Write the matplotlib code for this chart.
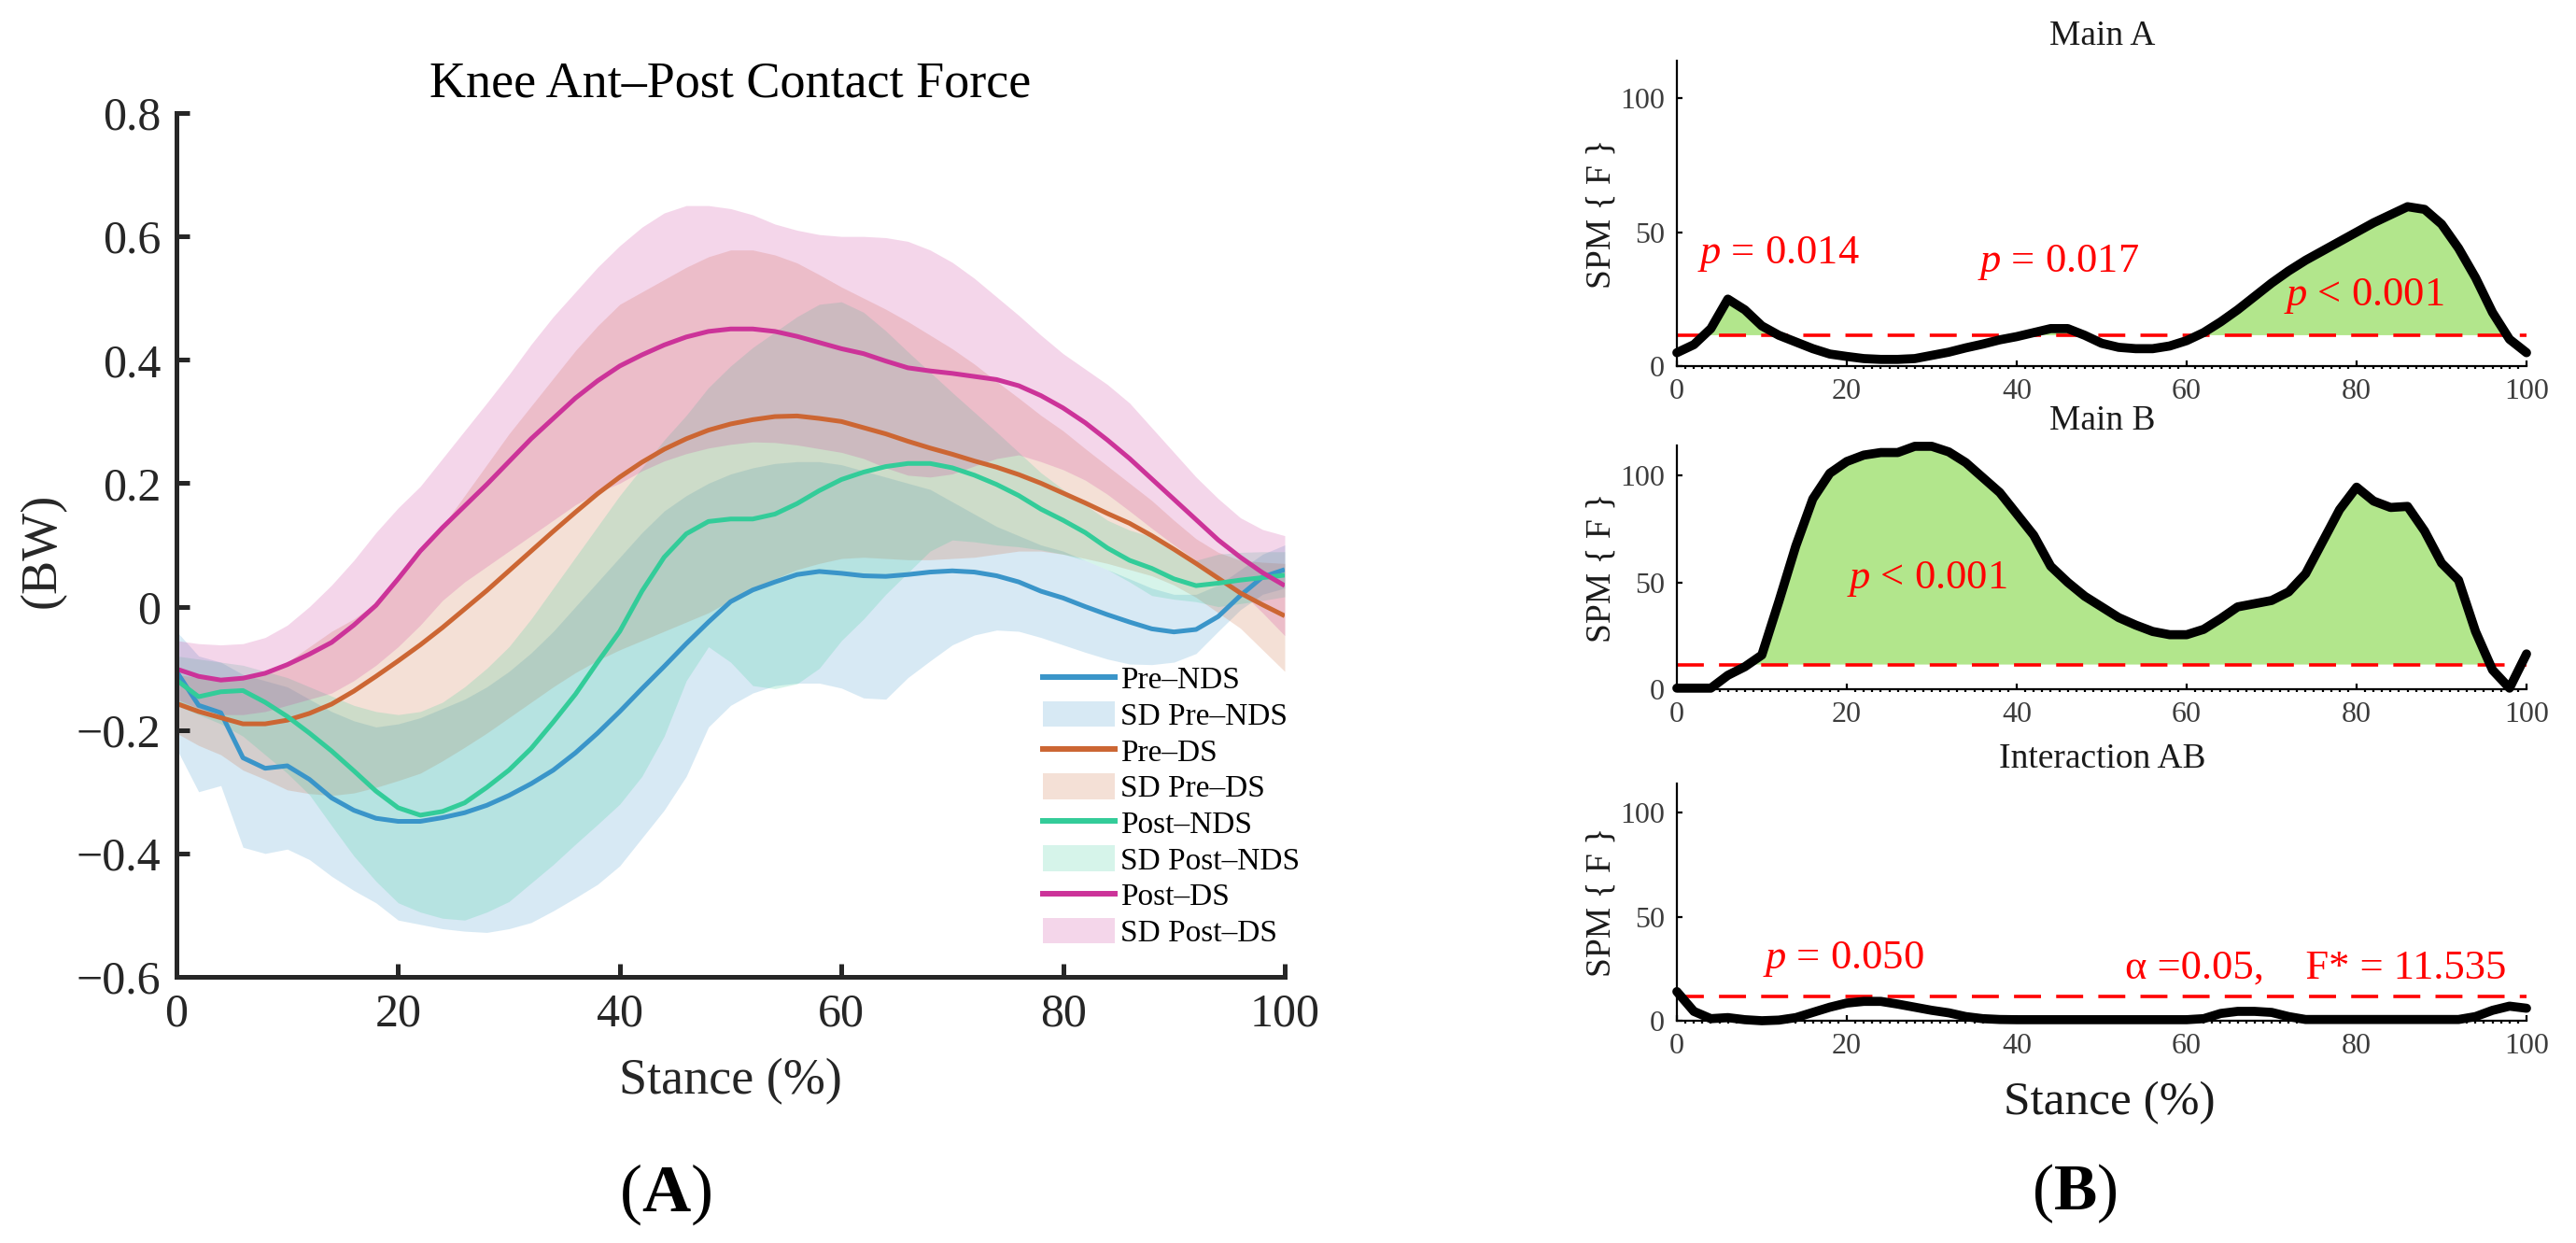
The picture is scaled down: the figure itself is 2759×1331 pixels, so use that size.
import matplotlib
matplotlib.use("Agg")
import matplotlib.pyplot as plt
import numpy as np
from matplotlib.lines import Line2D
from matplotlib.patches import Patch

plt.rcParams['font.family'] = ['Liberation Serif', 'DejaVu Serif']
plt.rcParams['mathtext.fontset'] = 'custom'
plt.rcParams['mathtext.rm'] = 'Liberation Serif'
plt.rcParams['mathtext.it'] = 'Liberation Serif:italic'
plt.rcParams['mathtext.bf'] = 'Liberation Serif:bold'

# ---------------- data ----------------
stance = list(range(0, 101, 2))

pre_nds_mean = [-0.105, -0.160, -0.172, -0.245, -0.262, -0.258, -0.280, -0.310, -0.330, -0.343,
                -0.348, -0.348, -0.342, -0.334, -0.322, -0.306, -0.287, -0.265, -0.237, -0.205,
                -0.170, -0.133, -0.097, -0.060, -0.025, 0.008, 0.027, 0.040, 0.052, 0.057,
                0.054, 0.050, 0.049, 0.052, 0.056, 0.058, 0.056, 0.050, 0.040, 0.025,
                0.014, 0.000, -0.013, -0.025, -0.036, -0.041, -0.037, -0.016, 0.018, 0.048, 0.060]
pre_nds_upper = [-0.04, -0.08, -0.09, -0.11, -0.12, -0.13, -0.15, -0.17, -0.185, -0.195,
                 -0.19, -0.18, -0.165, -0.15, -0.13, -0.105, -0.075, -0.04, 0.0, 0.04,
                 0.08, 0.12, 0.155, 0.18, 0.20, 0.215, 0.225, 0.232, 0.235, 0.235,
                 0.23, 0.22, 0.21, 0.20, 0.19, 0.17, 0.15, 0.13, 0.115, 0.10,
                 0.09, 0.075, 0.06, 0.045, 0.03, 0.02, 0.02, 0.035, 0.06, 0.085, 0.10]
pre_nds_lower = [-0.23, -0.30, -0.29, -0.39, -0.40, -0.393, -0.41, -0.437, -0.46, -0.48,
                 -0.508, -0.515, -0.522, -0.526, -0.528, -0.522, -0.512, -0.493, -0.472, -0.45,
                 -0.42, -0.375, -0.33, -0.275, -0.195, -0.16, -0.14, -0.128, -0.124, -0.124,
                 -0.132, -0.148, -0.15, -0.115, -0.088, -0.062, -0.046, -0.038, -0.04, -0.05,
                 -0.062, -0.074, -0.085, -0.093, -0.094, -0.09, -0.076, -0.04, -0.005, 0.02, 0.03]

pre_ds_mean = [-0.157, -0.170, -0.180, -0.190, -0.190, -0.184, -0.173, -0.158, -0.137, -0.113,
               -0.088, -0.062, -0.034, -0.004, 0.026, 0.058, 0.090, 0.122, 0.153, 0.183,
               0.210, 0.234, 0.255, 0.272, 0.286, 0.296, 0.303, 0.308, 0.309, 0.305,
               0.300, 0.290, 0.280, 0.268, 0.257, 0.247, 0.236, 0.226, 0.214, 0.200,
               0.184, 0.168, 0.151, 0.135, 0.115, 0.093, 0.070, 0.046, 0.022, 0.003, -0.015]
pre_ds_upper = [-0.11, -0.115, -0.12, -0.115, -0.105, -0.09, -0.065, -0.04, -0.02, 0.006,
                0.045, 0.085, 0.13, 0.18, 0.23, 0.28, 0.325, 0.37, 0.415, 0.455,
                0.49, 0.51, 0.53, 0.55, 0.567, 0.578, 0.578, 0.57, 0.557, 0.538,
                0.518, 0.50, 0.482, 0.462, 0.44, 0.418, 0.393, 0.365, 0.338, 0.31,
                0.285, 0.256, 0.228, 0.20, 0.172, 0.14, 0.11, 0.088, 0.075, 0.072, 0.07]
pre_ds_lower = [-0.205, -0.225, -0.24, -0.265, -0.28, -0.297, -0.303, -0.306, -0.302, -0.293,
                -0.282, -0.27, -0.25, -0.228, -0.205, -0.18, -0.155, -0.13, -0.107, -0.087,
                -0.07, -0.055, -0.04, -0.025, -0.01, 0.01, 0.03, 0.045, 0.06, 0.07,
                0.078, 0.08, 0.078, 0.076, 0.076, 0.078, 0.08, 0.085, 0.09, 0.09,
                0.085, 0.078, 0.07, 0.06, 0.05, 0.035, 0.015, -0.01, -0.035, -0.07, -0.105]

post_nds_mean = [-0.119, -0.146, -0.138, -0.136, -0.155, -0.178, -0.205, -0.234, -0.266, -0.299,
                 -0.326, -0.338, -0.332, -0.318, -0.293, -0.265, -0.230, -0.187, -0.142, -0.090,
                 -0.040, 0.025, 0.080, 0.118, 0.138, 0.142, 0.142, 0.150, 0.167, 0.188,
                 0.206, 0.218, 0.227, 0.232, 0.232, 0.225, 0.213, 0.198, 0.180, 0.158,
                 0.140, 0.120, 0.095, 0.075, 0.062, 0.045, 0.034, 0.038, 0.043, 0.047, 0.051]
post_nds_upper = [-0.08, -0.085, -0.09, -0.095, -0.105, -0.115, -0.13, -0.145, -0.16, -0.17,
                  -0.175, -0.17, -0.155, -0.13, -0.10, -0.065, -0.02, 0.03, 0.08, 0.13,
                  0.18, 0.225, 0.27, 0.31, 0.355, 0.39, 0.42, 0.445, 0.47, 0.49,
                  0.494, 0.477, 0.447, 0.413, 0.38, 0.347, 0.315, 0.283, 0.25, 0.217,
                  0.19, 0.165, 0.14, 0.124, 0.113, 0.09, 0.075, 0.085, 0.088, 0.089, 0.089]
post_nds_lower = [-0.16, -0.175, -0.19, -0.21, -0.24, -0.27, -0.305, -0.355, -0.404, -0.445,
                  -0.48, -0.495, -0.505, -0.508, -0.495, -0.478, -0.448, -0.418, -0.385, -0.353,
                  -0.32, -0.275, -0.21, -0.12, -0.065, -0.09, -0.128, -0.133, -0.125, -0.10,
                  -0.055, -0.02, 0.02, 0.055, 0.09, 0.108, 0.105, 0.10, 0.097, 0.092,
                  0.085, 0.075, 0.06, 0.04, 0.018, 0.012, 0.008, 0.0, 0.005, 0.01, 0.016]

post_ds_mean = [-0.101, -0.113, -0.119, -0.116, -0.108, -0.094, -0.077, -0.058, -0.030, 0.002,
                0.045, 0.090, 0.128, 0.163, 0.198, 0.235, 0.272, 0.305, 0.338, 0.366,
                0.390, 0.408, 0.424, 0.437, 0.446, 0.450, 0.450, 0.446, 0.438, 0.428,
                0.418, 0.410, 0.398, 0.387, 0.382, 0.378, 0.373, 0.368, 0.358, 0.342,
                0.322, 0.298, 0.270, 0.240, 0.207, 0.174, 0.141, 0.108, 0.080, 0.055, 0.034]
post_ds_upper = [-0.055, -0.06, -0.062, -0.06, -0.05, -0.03, 0.0, 0.035, 0.075, 0.12,
                 0.16, 0.195, 0.24, 0.285, 0.33, 0.376, 0.425, 0.47, 0.51, 0.55,
                 0.585, 0.615, 0.638, 0.65, 0.65, 0.645, 0.635, 0.62, 0.61, 0.603,
                 0.60, 0.60, 0.598, 0.592, 0.578, 0.558, 0.532, 0.502, 0.472, 0.44,
                 0.41, 0.385, 0.36, 0.33, 0.29, 0.25, 0.21, 0.175, 0.144, 0.125, 0.115]
post_ds_lower = [-0.15, -0.165, -0.175, -0.175, -0.17, -0.16, -0.15, -0.14, -0.12, -0.095,
                 -0.065, -0.03, 0.01, 0.04, 0.065, 0.09, 0.115, 0.14, 0.165, 0.185,
                 0.20, 0.22, 0.236, 0.248, 0.257, 0.263, 0.267, 0.266, 0.262, 0.256,
                 0.25, 0.24, 0.225, 0.213, 0.21, 0.215, 0.228, 0.24, 0.246, 0.235,
                 0.222, 0.205, 0.182, 0.155, 0.127, 0.10, 0.075, 0.05, 0.025, -0.01, -0.047]

group_names = ['Pre\u2013NDS', 'Pre\u2013DS', 'Post\u2013NDS', 'Post\u2013DS']
group_colors = ['#3A95C9', '#CC6633', '#33CC99', '#CC3399']

spm_main_a = [5, 8, 14, 25, 21, 15, 11.5, 9, 6.5, 4.5,
              3.6, 2.8, 2.5, 2.5, 2.8, 4, 5.2, 6.8, 8.2, 9.8,
              11, 12.5, 14, 14, 11.5, 8.5, 7, 6.5, 6.5, 7.5,
              9.5, 12.5, 16.5, 21, 26, 31, 35.5, 39.5, 43, 46.5,
              50, 53.5, 56.5, 59.5, 58.5, 53, 44, 33, 20, 10, 5]
spm_main_b = [0.5, 0.5, 0.5, 6.5, 10.5, 16, 41, 67, 89, 101,
              106.5, 109.5, 110.7, 110.7, 113.6, 113.6, 111, 106, 99, 92,
              82, 72, 57.5, 50, 43.5, 38.5, 33.5, 30, 27, 25.5,
              25.5, 28, 33, 38.5, 40, 41.5, 45.5, 54, 69, 84,
              94.5, 88, 85, 85.5, 74, 59, 51, 27, 9, 0.5, 16.5]
spm_inter = [14, 4.5, 1, 1.5, 0.5, 0, 0.3, 1.5, 4, 6.5,
             8.5, 9.3, 9.3, 8, 6.5, 5, 3.8, 2, 1, 0.6,
             0.5, 0.5, 0.5, 0.5, 0.5, 0.5, 0.5, 0.5, 0.5, 0.5,
             0.5, 1, 3.5, 4.5, 4.5, 4, 2, 0.6, 0.6, 0.6,
             0.6, 0.6, 0.6, 0.6, 0.6, 0.6, 0.6, 2, 5, 7, 6]
spm_threshold = 11.535
panel_titles = ['Main A', 'Main B', 'Interaction AB']

# ---------------- figure ----------------
W, H = 2759, 1331
fig = plt.figure(figsize=(W / 100, H / 100), dpi=100)


def fx(px):
    return px / W


def fy(py):
    return 1 - py / H


dark = '#262626'

# ---- left panel ----
ax = fig.add_axes([fx(189), fy(1046), (1376 - 189) / W, (1046 - 121) / H])
means = [pre_nds_mean, pre_ds_mean, post_nds_mean, post_ds_mean]
uppers = [pre_nds_upper, pre_ds_upper, post_nds_upper, post_ds_upper]
lowers = [pre_nds_lower, pre_ds_lower, post_nds_lower, post_ds_lower]
handles = []
for name, col, m, up, lo in zip(group_names, group_colors, means, uppers, lowers):
    ln, = ax.plot(stance, m, color=col, lw=3.6, solid_capstyle='butt')
    ax.fill_between(stance, lo, up, color=col, alpha=0.2, lw=0)
    handles.append(Line2D([0], [0], color=col, lw=4.3))
    handles.append(Patch(facecolor=col, alpha=0.2, edgecolor='none'))
labels = []
for name in group_names:
    labels += [name, 'SD ' + name]

ax.set_xlim(0, 100)
ax.set_ylim(-0.6, 0.8)
ax.set_xticks([0, 20, 40, 60, 80, 100])
ax.set_yticks([-0.6, -0.4, -0.2, 0, 0.2, 0.4, 0.6, 0.8])
ax.set_yticklabels(['\u22120.6', '\u22120.4', '\u22120.2', '0', '0.2', '0.4', '0.6', '0.8'])
for s in ['top', 'right']:
    ax.spines[s].set_visible(False)
for s in ['left', 'bottom']:
    ax.spines[s].set_linewidth(3.6)
    ax.spines[s].set_color(dark)
ax.tick_params(direction='in', length=10, width=3.6, color=dark, labelsize=36,
               labelcolor=dark)
ax.tick_params(axis='x', pad=12)
ax.tick_params(axis='y', pad=12)
leg = ax.legend(handles, labels, loc='upper left',
                bbox_to_anchor=((1117 - 189) / 1187, (1046 - 712) / 925),
                frameon=False, fontsize=24, handlelength=2.3, handleheight=0.9,
                handletextpad=0.2, labelspacing=0.19, borderpad=0, borderaxespad=0)

fig.text(fx(782), fy(103), 'Knee Ant\u2013Post Contact Force', ha='center', va='baseline',
         fontsize=39, color='black')
fig.text(fx(46), fy(589), '(BW)', ha='center', va='center', rotation=90, fontsize=39,
         color=dark)
fig.text(fx(782), fy(1171), 'Stance (%)', ha='center', va='baseline', fontsize=39,
         color=dark)
fig.text(fx(713), fy(1297), r'($\mathbf{A}$)', ha='center', va='baseline', fontsize=52,
         color='black')

# ---- right panels ----
x0, x1 = 1796, 2706
panel_boxes = [(65, 392), (477, 738), (839, 1093)]
spm_series = [spm_main_a, spm_main_b, spm_inter]
title_baselines = [48, 460, 822]
gray = '#3c3c3c'
axes_r = []
for (top, bot), spm, title, tb in zip(panel_boxes, spm_series, panel_titles, title_baselines):
    a = fig.add_axes([fx(x0), fy(bot), (x1 - x0) / W, (bot - top) / H])
    arr = np.array(spm, dtype=float)
    a.fill_between(stance, spm_threshold, arr, where=arr > spm_threshold, interpolate=True,
                   color='#B2E68C', lw=0, zorder=1)
    a.axhline(spm_threshold, color='#FF0000', lw=2.6, ls=(0, (8, 4.5)), zorder=2)
    a.plot(stance, arr, color='black', lw=7, solid_joinstyle='round', solid_capstyle='round',
           clip_on=False, zorder=3)
    a.set_xlim(0, 100)
    a.set_ylim(0, 114)
    a.set_xticks([0, 20, 40, 60, 80, 100])
    a.set_xticks(list(range(0, 101)), minor=True)
    a.set_yticks([0, 50, 100])
    for s in ['top', 'right']:
        a.spines[s].set_visible(False)
    for s in ['left', 'bottom']:
        a.spines[s].set_linewidth(1.6)
        a.spines[s].set_color('black')
    a.tick_params(which='major', direction='in', length=4.5, width=1.6, color='black',
                  labelsize=23, labelcolor=gray, pad=9.5)
    a.tick_params(which='minor', axis='x', direction='out', length=2.5, width=1.6,
                  color='black')
    a.tick_params(which='minor', axis='y', length=0)
    fig.text(fx(2252), fy(tb), title, ha='center', va='baseline', fontsize=27, color='#1a1a1a')
    fig.text(fx(1715), fy((top + bot) / 2), 'SPM { F }', ha='center', va='center',
             rotation=90, fontsize=27, color='#1a1a1a')
    axes_r.append(a)

red = '#FF0000'
axA, axB, axI = axes_r
axA.text(2.4, 38.2, r'$p$ = 0.014', color=red, fontsize=32, ha='left', va='baseline')
axA.text(35.4, 35.1, r'$p$ = 0.017', color=red, fontsize=32, ha='left', va='baseline')
axA.text(71.4, 22.5, r'$p$ < 0.001', color=red, fontsize=32, ha='left', va='baseline')
axB.text(20.0, 47.0, r'$p$ < 0.001', color=red, fontsize=32, ha='left', va='baseline')
axI.text(10.1, 25.1, r'$p$ = 0.050', color=red, fontsize=32, ha='left', va='baseline')
axI.text(52.8, 20.6, '\u03b1 =0.05,    F* = 11.535', color=red, fontsize=32, ha='left',
         va='baseline')

fig.text(fx(2259), fy(1193), 'Stance (%)', ha='center', va='baseline', fontsize=37,
         color='#1a1a1a')
fig.text(fx(2222), fy(1295), r'($\mathbf{B}$)', ha='center', va='baseline', fontsize=50,
         color='black')

fig.savefig('out.png', dpi=100)
